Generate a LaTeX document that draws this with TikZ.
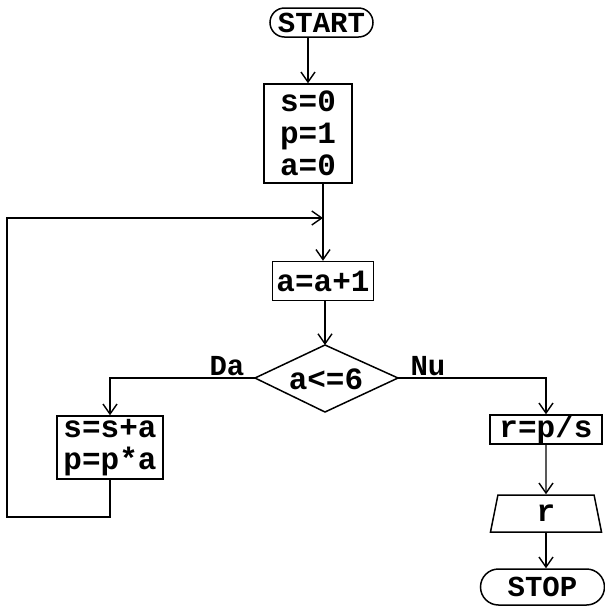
\documentclass[tikz,border=0pt]{standalone}
\usepackage{fontspec}
\setmonofont{Liberation Mono}
\usetikzlibrary{arrows.meta,shapes.geometric,shapes.misc}
\begin{document}
\begin{tikzpicture}[x=1pt,y=-1pt,
  every node/.style={font=\ttfamily\bfseries\fontsize{31}{32}\selectfont, inner sep=0pt},
  term/.style={draw, rounded rectangle, line width=1.5pt, font=\ttfamily\bfseries\fontsize{29}{32}\selectfont},
  proc/.style={draw, rectangle, line width=1.5pt, align=center},
  io/.style={draw, trapezium, trapezium left angle=66, trapezium right angle=66, trapezium stretches body, line width=1.5pt},
  conn/.style={line width=1.4pt},
  arr/.style={conn, -{Straight Barb[length=10pt,width=14pt,line width=1.4pt]}},
  lbl/.style={font=\ttfamily\bfseries\fontsize{29}{30}\selectfont}
]
\useasboundingbox (0,0) rectangle (605,606);
\node[term, minimum width=103pt, minimum height=29pt] (start) at (321.5,22.5) {START};
\node[proc, minimum width=88pt, minimum height=99pt] (init) at (308,133.5) {s=0\\p=1\\a=0};
\node[proc, minimum width=101pt, minimum height=39pt] (inc) at (323,281) {a=a+1};
% decision
\coordinate (cN) at (325,345);
\coordinate (cE) at (398,378);
\coordinate (cS) at (325,412);
\coordinate (cW) at (255,378);
\draw[line width=1.5pt, line join=miter] (cN) -- (cE) -- (cS) -- (cW) -- cycle;
\node (cond) at (326,379) {a<=6};
\node[proc, minimum width=106pt, minimum height=63pt] (body) at (110,447.5) {s=s+a\\p=p*a};
\node[proc, minimum width=112pt, minimum height=29pt] (calc) at (546,429.5) {r=p/s};
\node[io, minimum width=111pt, minimum height=37pt] (out) at (546,513.5) {r};
\node[term, minimum width=124pt, minimum height=36pt] (stop) at (542.5,587) {STOP};
\node[lbl] (da) at (227,366) {Da};
\node[lbl] (nu) at (428,366) {Nu};
\coordinate (join) at (323,218);
\coordinate (lb) at (110,517);
\coordinate (ll) at (7,517);
\coordinate (lt) at (7,218);

\draw[arr] (init.north |- start.south) -- (init.north);
\draw[conn] (inc.north |- init.south) -- (join);
\draw[arr] (join) -- (inc.north);
\draw[arr] (cN |- inc.south) -- (cN);
\draw[arr] (cW) -- (body.north |- cW) -- (body.north);
\draw[arr] (cE) -- (calc.north |- cE) -- (calc.north);
\draw[arr] (calc.south) -- (out.north);
\draw[arr] (out.south) -- (out.south |- stop.north);
\draw[arr] (body.south) -- (lb) -- (ll) -- (lt) -- (join);
\end{tikzpicture}
\end{document}
